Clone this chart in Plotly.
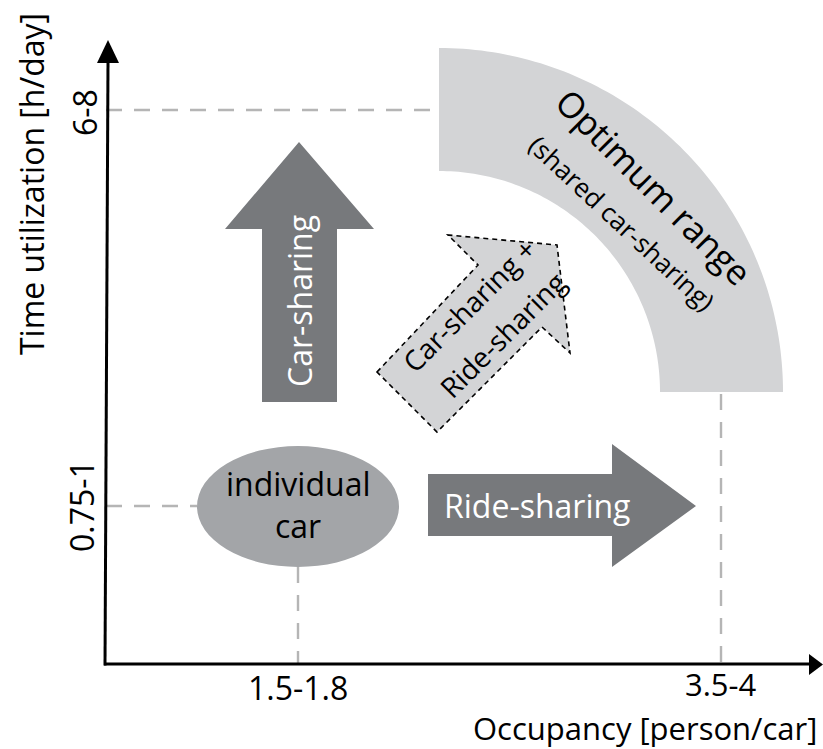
import numpy as np
import plotly.graph_objects as go

# ---- content (text values of the concept diagram) ----
x_axis_title = "Occupancy [person/car]"
y_axis_title = "Time utilization [h/day]"
x_tick_labels = ["1.5-1.8", "3.5-4"]
y_tick_labels = ["0.75-1", "6-8"]
start_label = ["individual", "car"]
path_labels = ["Car-sharing", "Ride-sharing"]
combo_labels = ["Car-sharing +", "Ride-sharing"]
target_labels = ["Optimum range", "(shared car-sharing)"]

# ---- layout geometry (diagram coordinates) ----
W, H = 823, 749
FONT = "Open Sans"
DARK = "#77797c"
MID = "#a3a5a8"
LIGHT = "#d3d4d6"
DASHGREY = "#b5b5b5"

x_tick_pos = [298, 721]
y_tick_pos = [506, 110]
origin = (106, 664)

fig = go.Figure()
fig.add_trace(go.Scatter(x=[0], y=[0], mode="markers", marker=dict(opacity=0),
                         hoverinfo="skip", showlegend=False))

shapes = []

def poly(pts, fill, line=None):
    d = "M " + " L ".join(f"{x},{y}" for x, y in pts) + " Z"
    s = dict(type="path", path=d, xref="x", yref="y", fillcolor=fill,
             line=line if line else dict(width=0), layer="above")
    return s

# optimum range quarter annulus
cx, cy, R, r = 439, 392, 344, 221
th = np.linspace(0, np.pi / 2, 90)
outer = [(cx + R * np.sin(t), cy - R * np.cos(t)) for t in th]
inner = [(cx + r * np.sin(t), cy - r * np.cos(t)) for t in th[::-1]]
shapes.append(poly(outer + inner, LIGHT))

# guide dashed lines
dl = dict(color=DASHGREY, width=2.4, dash="16px,12px")
shapes.append(dict(type="line", x0=origin[0], x1=438, y0=y_tick_pos[1], y1=y_tick_pos[1], line=dl, xref="x", yref="y"))
shapes.append(dict(type="line", x0=origin[0], x1=197, y0=y_tick_pos[0], y1=y_tick_pos[0], line=dl, xref="x", yref="y"))
shapes.append(dict(type="line", x0=x_tick_pos[0], x1=x_tick_pos[0], y0=567, y1=origin[1], line=dl, xref="x", yref="y"))
shapes.append(dict(type="line", x0=x_tick_pos[1], x1=x_tick_pos[1], y0=394, y1=origin[1], line=dl, xref="x", yref="y"))

# individual car ellipse
shapes.append(dict(type="circle", x0=197, x1=399, y0=446, y1=567, fillcolor=MID,
                   line=dict(width=0), xref="x", yref="y", layer="above"))

# car-sharing arrow (up)
shapes.append(poly([(262, 402), (262, 229), (225, 229), (299, 142), (374, 229), (337, 229), (337, 402)], DARK))
# ride-sharing arrow (right)
shapes.append(poly([(428, 474), (612, 474), (612, 444), (696, 506), (612, 567), (612, 536), (428, 536)], DARK))
# combined dashed arrow (diagonal)
shapes.append(poly([(377, 372), (478, 265), (448, 235), (557, 245), (570, 353), (542, 327), (437, 432)],
                   LIGHT, dict(color="black", width=1.6, dash="5px,4px")))

# axes with arrowheads
al = dict(color="black", width=3)
shapes.append(dict(type="line", x0=105, y0=origin[1] + 1.5, x1=108, y1=62, line=al, xref="x", yref="y"))
shapes.append(dict(type="line", x0=104, y0=origin[1], x1=810, y1=origin[1], line=al, xref="x", yref="y"))
shapes.append(poly([(97, 63), (119, 63), (108, 40)], "black"))
shapes.append(poly([(809, 654), (809, 675), (823, 664.5)], "black"))

ann = []
def txt(t, x, y, size, color="black", angle=0, xanchor="center"):
    ann.append(dict(text=t, x=x, y=y, xref="x", yref="y", showarrow=False,
                    xanchor=xanchor, yanchor="middle", textangle=angle,
                    font=dict(family=FONT, size=size, color=color)))

# tick labels
txt(x_tick_labels[0], x_tick_pos[0], 687, 32)
txt(x_tick_labels[1], x_tick_pos[1], 684, 31)
txt(y_tick_labels[0], 81, y_tick_pos[0], 32, angle=-90)
txt(y_tick_labels[1], 84, y_tick_pos[1] + 3, 32, angle=-90)
# axis titles
txt(x_axis_title, 819, 728, 31, xanchor="right")
txt(y_axis_title, 31, 184, 32, angle=-90)
# concept labels
txt(start_label[0], 298, 483, 32)
txt(start_label[1], 298, 525, 32)
txt(path_labels[0], 299, 301, 32, color="white", angle=-90)
txt(path_labels[1], 537, 505, 32, color="white")
txt(combo_labels[0], 469, 305, 28, angle=-45)
txt(combo_labels[1], 502, 335, 28, angle=-45)
txt(target_labels[0], 654, 186, 35, angle=45)
txt(target_labels[1], 622, 223, 26, angle=43)

fig.update_layout(
    width=W, height=H, margin=dict(l=0, r=0, t=0, b=0),
    paper_bgcolor="white", plot_bgcolor="white",
    xaxis=dict(range=[0, W], visible=False, fixedrange=True),
    yaxis=dict(range=[H, 0], visible=False, fixedrange=True),
    shapes=shapes, annotations=ann, showlegend=False,
)
fig.write_html("out.html", config={"displayModeBar": False},
               post_script="document.body.style.margin='0';document.body.style.overflow='hidden';")
